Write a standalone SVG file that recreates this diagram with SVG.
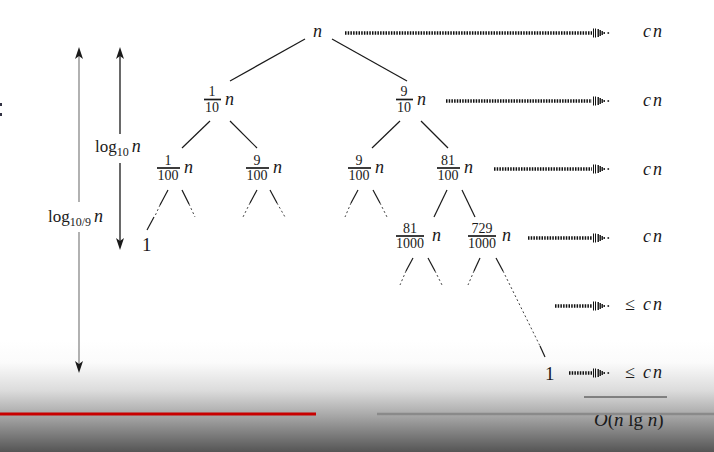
<svg xmlns="http://www.w3.org/2000/svg" xmlns:xlink="http://www.w3.org/1999/xlink" width="714" height="452" viewBox="0 0 714 452">
<style>
text{font-family:"Liberation Serif","Times New Roman",serif;fill:#1a1a1a}
.v{font-style:italic;font-size:18px}
.cn{font-style:italic;font-size:18px;letter-spacing:2px}
.fr{font-size:14px;text-anchor:middle}
.num{font-size:19px}
.lg{font-size:17px}
.sub{font-size:12px}
.e{stroke:#1a1a1a;stroke-width:1.2;fill:none}
.d{stroke:#444;stroke-width:1;stroke-dasharray:2 2.5;fill:none}
.bar{stroke:#1a1a1a;stroke-width:1.7}
.dot{stroke:#111;stroke-width:3.5;stroke-dasharray:1.5 1.2;fill:none}
</style>
<defs>
<linearGradient id="bg" x1="0" y1="0" x2="0" y2="1">
<stop offset="0" stop-color="#ffffff"/>
<stop offset="0.2" stop-color="#fbfbfb"/>
<stop offset="0.45" stop-color="#dcdcdc"/>
<stop offset="0.66" stop-color="#ababab"/>
<stop offset="1" stop-color="#555555"/>
</linearGradient>
<g id="ah" fill="#111">
<rect x="-17" y="-4.5" width="1" height="9"/>
<rect x="-15" y="-4.5" width="1" height="9"/>
<rect x="-12.5" y="-4" width="1.4" height="8"/>
<rect x="-10.5" y="-3" width="1.4" height="6"/>
<rect x="-8.5" y="-2" width="1.4" height="4"/>
<rect x="-6.5" y="-1" width="1.4" height="2"/>
<rect x="-2.5" y="-0.8" width="1.6" height="1.6"/>
</g>
<path id="tipUp" d="M0,0 L4,12 L0,9 L-4,12 Z" fill="#1a1a1a"/>
<path id="tipDown" d="M0,0 L4,-12 L0,-9 L-4,-12 Z" fill="#1a1a1a"/>
</defs>
<rect x="0" y="0" width="714" height="452" fill="#ffffff"/>
<rect x="0" y="340" width="714" height="112" fill="url(#bg)"/>
<rect x="0" y="103" width="2" height="3" fill="#334"/>
<rect x="0" y="113" width="2" height="3" fill="#334"/>

<g id="connectors">
<line class="e" x1="305" y1="39" x2="230" y2="81"/>
<line class="e" x1="332" y1="39" x2="407" y2="81"/>
<line class="e" x1="210" y1="121" x2="182" y2="148"/>
<line class="e" x1="230" y1="121" x2="257" y2="148"/>
<line class="e" x1="400" y1="121" x2="372" y2="148"/>
<line class="e" x1="421" y1="121" x2="448" y2="148"/>
<line class="e" x1="168" y1="190" x2="160" y2="205"/>
<line class="d" x1="160" y1="205" x2="155" y2="216"/>
<line class="e" x1="154" y1="217" x2="147" y2="230"/>
<line class="e" x1="182" y1="190" x2="189" y2="204"/>
<line class="d" x1="189" y1="204" x2="195" y2="217"/>
<line class="e" x1="257" y1="190" x2="250" y2="203"/>
<line class="d" x1="250" y1="203" x2="243" y2="217"/>
<line class="e" x1="270" y1="190" x2="277" y2="203"/>
<line class="d" x1="277" y1="203" x2="285" y2="217"/>
<line class="e" x1="358" y1="190" x2="351" y2="203"/>
<line class="d" x1="351" y1="203" x2="345" y2="217"/>
<line class="e" x1="373" y1="190" x2="380" y2="203"/>
<line class="d" x1="380" y1="203" x2="387" y2="217"/>
<line class="e" x1="447" y1="190" x2="434" y2="217"/>
<line class="e" x1="462" y1="190" x2="475" y2="217"/>
<line class="e" x1="413" y1="258" x2="406" y2="271"/>
<line class="d" x1="406" y1="271" x2="400" y2="285"/>
<line class="e" x1="428" y1="258" x2="435" y2="271"/>
<line class="d" x1="435" y1="271" x2="442" y2="285"/>
<line class="e" x1="480" y1="258" x2="474" y2="271"/>
<line class="d" x1="474" y1="271" x2="468" y2="285"/>
<line class="e" x1="496" y1="258" x2="503" y2="271"/>
<line class="d" x1="503" y1="271" x2="540" y2="346"/>
<line class="e" x1="540" y1="346" x2="545" y2="357"/>

<line class="dot" x1="345" y1="33" x2="592" y2="33"/>
<use xlink:href="#ah" x="610" y="33"/>
<line class="dot" x1="446" y1="101" x2="592" y2="101"/>
<use xlink:href="#ah" x="610" y="101"/>
<line class="dot" x1="494" y1="169" x2="592" y2="169"/>
<use xlink:href="#ah" x="610" y="169"/>
<line class="dot" x1="528" y1="238" x2="592" y2="238"/>
<use xlink:href="#ah" x="610" y="238"/>
<line class="dot" x1="555" y1="306" x2="592" y2="306"/>
<use xlink:href="#ah" x="610" y="306"/>
<line class="dot" x1="569" y1="373" x2="592" y2="373"/>
<use xlink:href="#ah" x="610" y="373"/>
</g>

<g id="root"><text class="v" x="313" y="37">n</text></g>
<g id="n-1-10">
<text class="fr" x="212" y="96">1</text>
<line class="bar" x1="204" y1="99.5" x2="221" y2="99.5"/>
<text class="fr" x="212" y="112">10</text>
<text class="v" x="225" y="105">n</text>
</g>
<g id="n-9-10">
<text class="fr" x="404" y="96">9</text>
<line class="bar" x1="396" y1="99.5" x2="413" y2="99.5"/>
<text class="fr" x="404" y="112">10</text>
<text class="v" x="417" y="105">n</text>
</g>
<g id="n-1-100">
<text class="fr" x="168" y="165">1</text>
<line class="bar" x1="157" y1="168" x2="180" y2="168"/>
<text class="fr" x="168" y="180">100</text>
<text class="v" x="184" y="173">n</text>
</g>
<g id="n-9-100a">
<text class="fr" x="257" y="165">9</text>
<line class="bar" x1="246" y1="168" x2="269" y2="168"/>
<text class="fr" x="257" y="180">100</text>
<text class="v" x="273" y="173">n</text>
</g>
<g id="n-9-100b">
<text class="fr" x="359" y="165">9</text>
<line class="bar" x1="348" y1="168" x2="371" y2="168"/>
<text class="fr" x="359" y="180">100</text>
<text class="v" x="375" y="173">n</text>
</g>
<g id="n-81-100">
<text class="fr" x="448" y="165">81</text>
<line class="bar" x1="437" y1="168" x2="460" y2="168"/>
<text class="fr" x="448" y="180">100</text>
<text class="v" x="464" y="173">n</text>
</g>
<g id="n-81-1000">
<text class="fr" x="410" y="233">81</text>
<line class="bar" x1="396" y1="236" x2="424" y2="236"/>
<text class="fr" x="410" y="248">1000</text>
<text class="v" x="432" y="241">n</text>
</g>
<g id="n-729-1000">
<text class="fr" x="482" y="233">729</text>
<line class="bar" x1="468" y1="236" x2="496" y2="236"/>
<text class="fr" x="482" y="248">1000</text>
<text class="v" x="502" y="241">n</text>
</g>
<g id="leaf-left"><text class="num" x="142" y="251">1</text></g>
<g id="leaf-right"><text class="num" x="545" y="380">1</text></g>

<g id="costs">
<text class="cn" x="643" y="37">cn</text>
<text class="cn" x="643" y="106">cn</text>
<text class="cn" x="643" y="175">cn</text>
<text class="cn" x="643" y="242">cn</text>
<text class="v" x="625" y="310">≤</text><text class="cn" x="643" y="310">cn</text>
<text class="v" x="625" y="378">≤</text><text class="cn" x="643" y="378">cn</text>
<line x1="584" y1="397" x2="667" y2="397" stroke="#333" stroke-width="1"/>
<text class="v" x="594" y="426" style="font-style:normal;font-size:19px"><tspan font-style="italic">O</tspan>(<tspan font-style="italic">n</tspan> lg <tspan font-style="italic">n</tspan>)</text>
</g>

<g id="height-arrows">
<line x1="79" y1="52" x2="79" y2="202" stroke="#888" stroke-width="1.3"/>
<line x1="79" y1="232" x2="79" y2="368" stroke="#888" stroke-width="1.3"/>
<use xlink:href="#tipUp" x="79" y="47"/>
<use xlink:href="#tipDown" x="79" y="373"/>
<text class="lg" x="48" y="222">log<tspan class="sub" dy="4">10/9</tspan><tspan class="v" dx="3" dy="-4">n</tspan></text>
<line x1="120" y1="52" x2="120" y2="134" stroke="#1a1a1a" stroke-width="1.3"/>
<line x1="120" y1="163" x2="120" y2="245" stroke="#1a1a1a" stroke-width="1.3"/>
<use xlink:href="#tipUp" x="120" y="47"/>
<use xlink:href="#tipDown" x="120" y="250"/>
<text class="lg" x="95" y="152">log<tspan class="sub" dy="4">10</tspan><tspan class="v" dx="3" dy="-4">n</tspan></text>
</g>

<line x1="0" y1="414" x2="316" y2="414" stroke="#c80000" stroke-width="3"/>
<line x1="377" y1="414" x2="714" y2="414" stroke="#8a8a8a" stroke-width="2.5"/>
</svg>
